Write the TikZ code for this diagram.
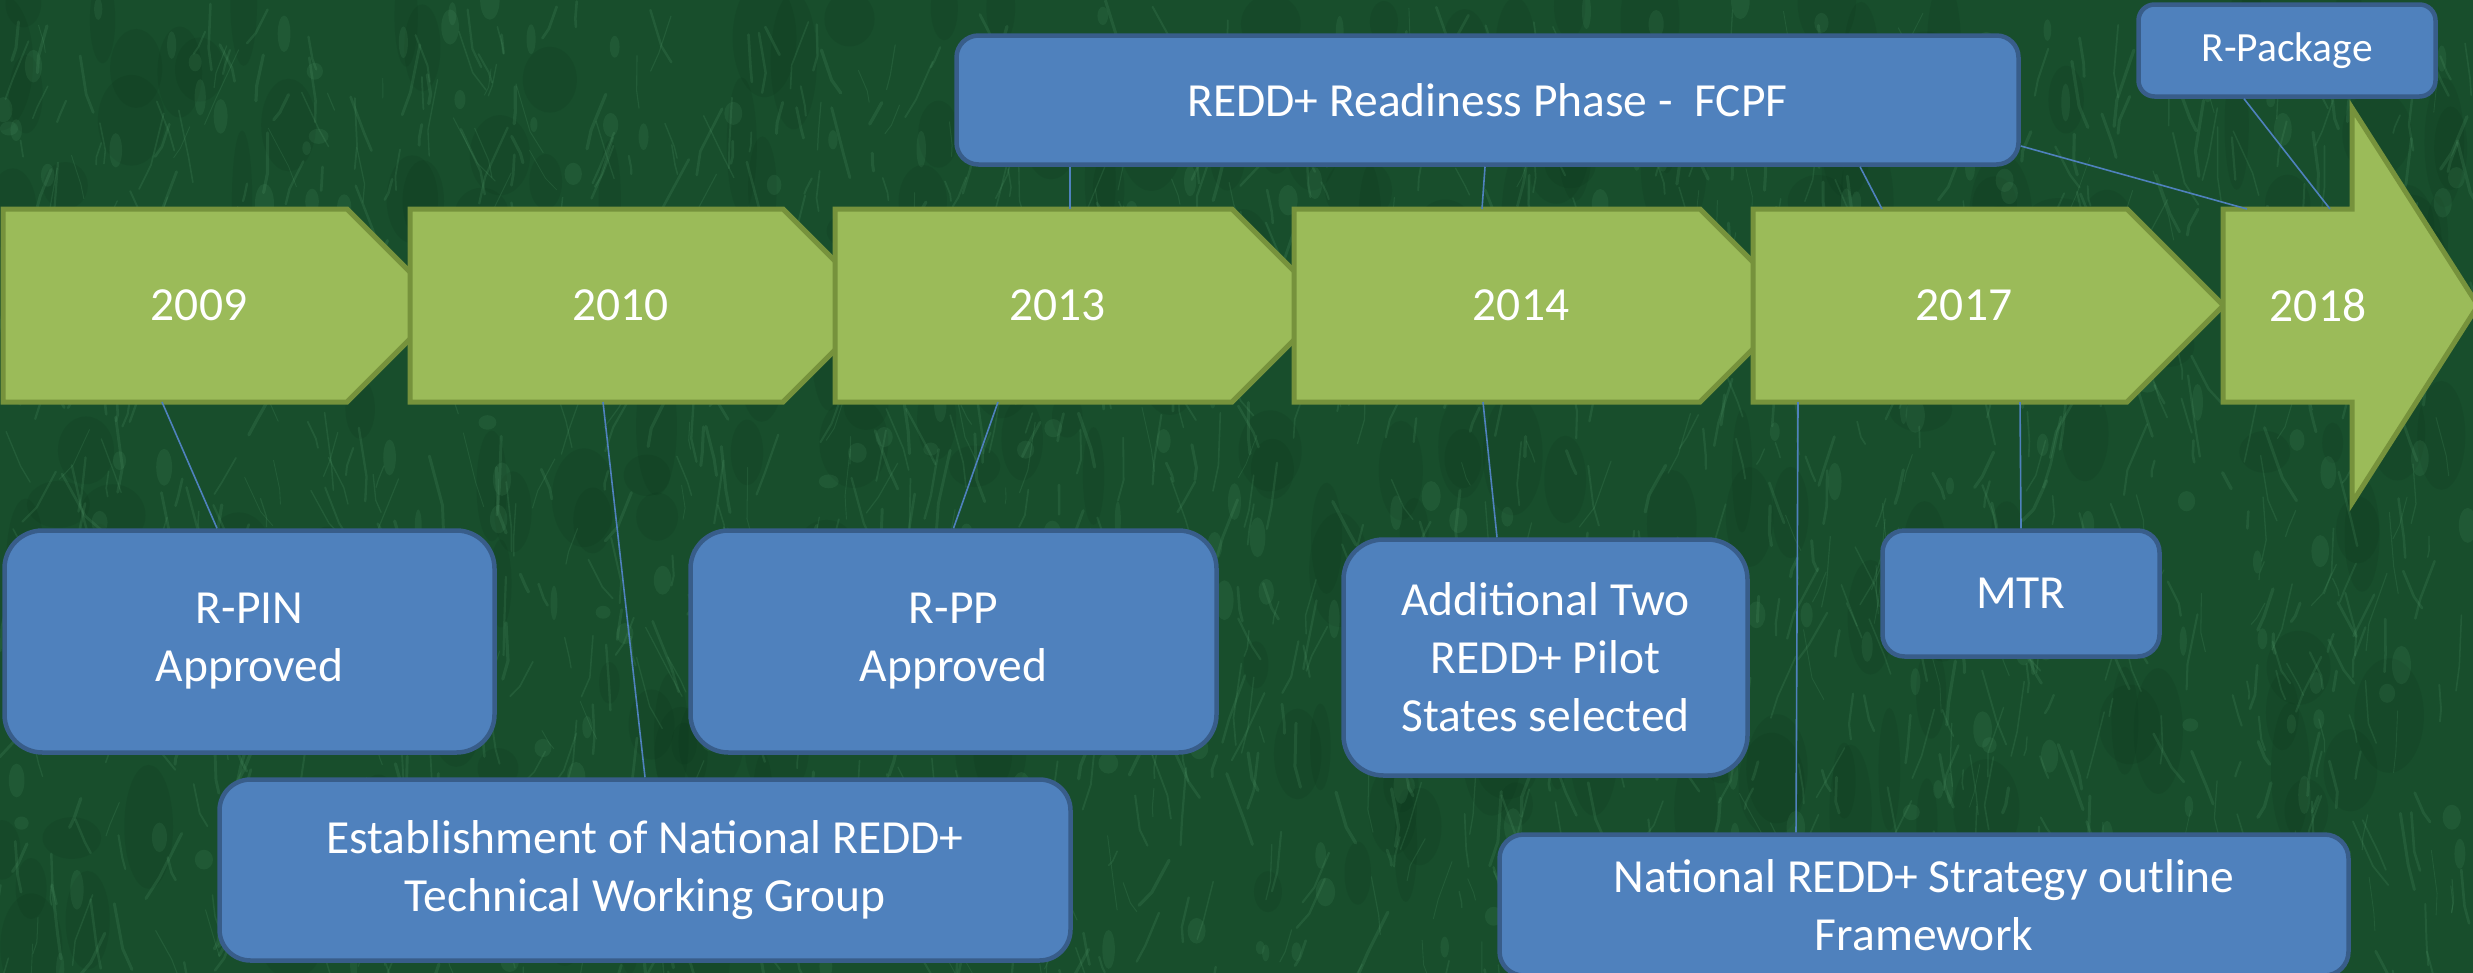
\documentclass[tikz,border=0pt]{standalone}
\usepackage{fontspec}
\setmainfont{Carlito}
\definecolor{bgdark}{RGB}{24,78,44}
\definecolor{bglight}{RGB}{95,170,120}
\definecolor{bgdeep}{RGB}{8,45,22}
\definecolor{chevfill}{RGB}{155,187,89}
\definecolor{chevline}{RGB}{118,146,60}
\definecolor{boxfill}{RGB}{79,129,189}
\definecolor{boxline}{RGB}{56,93,138}
\definecolor{connblue}{RGB}{79,129,189}
\begin{document}
\begin{tikzpicture}[x=1pt,y=-1pt,
  chev/.style={fill=chevfill,draw=chevline,line width=5pt,line join=miter},
  tbox/.style={draw=boxline,fill=boxfill,line width=4.5pt,rounded corners=#1,
    text=white,align=center,inner sep=0pt,font=\fontsize{47.5}{58}\selectfont},
  year/.style={text=white,inner sep=0pt,font=\fontsize{47.5}{58}\selectfont},
  conn/.style={draw=connblue,line width=1.6pt}]
\useasboundingbox (0,0) rectangle (2473,972);
\fill[bgdark] (-10,-10) rectangle (2483,982);
\begin{scope}
\clip (-10,-10) rectangle (2483,982);
\pgfmathsetseed{11}
\foreach \i in {1,...,260}{
  \pgfmathsetmacro\xx{rnd*2473}
  \pgfmathsetmacro\yy{rnd*972}
  \pgfmathsetmacro\ra{10+rnd*25}
  \pgfmathsetmacro\rb{20+rnd*50}
  \fill[bgdeep,opacity=0.12] (\xx,\yy) ellipse (\ra pt and \rb pt);
}
\foreach \i in {1,...,1400}{
  \pgfmathsetmacro\xx{rnd*2473}
  \pgfmathsetmacro\yy{rnd*972}
  \pgfmathsetmacro\ll{10+rnd*45}
  \pgfmathsetmacro\aa{60+rnd*60}
  \pgfmathsetmacro\ww{0.8+rnd*2.5}
  \draw[bglight,opacity=0.16,line width=\ww pt,line cap=round] (\xx,\yy) -- ++(\aa:\ll) -- ++(\aa+40*rnd-20:\ll/2);
}
\foreach \i in {1,...,300}{
  \pgfmathsetmacro\xx{rnd*2473}
  \pgfmathsetmacro\yy{rnd*972}
  \pgfmathsetmacro\ra{3+rnd*7}
  \pgfmathsetmacro\rb{6+rnd*14}
  \fill[bglight,opacity=0.12] (\xx,\yy) ellipse (\ra pt and \rb pt);
}
\end{scope}

% chevrons
\draw[chev] (3,209) -- (347,209) -- ++(96.5,96.5) -- ++(-96.5,96.5) -- (3,402) -- cycle;
\draw[chev] (410,209) -- (783,209) -- ++(96.5,96.5) -- ++(-96.5,96.5) -- (410,402) -- cycle;
\draw[chev] (835,209) -- (1232,209) -- ++(96.5,96.5) -- ++(-96.5,96.5) -- (835,402) -- cycle;
\draw[chev] (1294,209) -- (1700,209) -- ++(96.5,96.5) -- ++(-96.5,96.5) -- (1294,402) -- cycle;
\draw[chev] (1753,209) -- (2127,209) -- ++(96.5,96.5) -- ++(-96.5,96.5) -- (1753,402) -- cycle;
\draw[chev] (2223,209) -- (2352,209) -- (2352,108) -- (2478,305.5) -- (2352,503) -- (2352,402) -- (2223,402) -- cycle;

\node[year] (y2009) at (199,305.5) {2009};
\node[year] (y2010) at (620.6,305.5) {2010};
\node[year] (y2013) at (1057.6,305.5) {2013};
\node[year] (y2014) at (1521,305.5) {2014};
\node[year] (y2017) at (1964,305.5) {2017};
\node[year] (y2018) at (2318,305.5) {2018};

% connector ends on the chevrons
\coordinate (c09s) at (162,402);
\coordinate (c10s) at (603,402);
\coordinate (c13s) at (998,402);
\coordinate (c14s) at (1483,402);
\coordinate (c17s) at (2020,402);
\coordinate (c17t) at (1798,402);
\coordinate (c13n) at (1070,209);
\coordinate (c14n) at (1482,209);
\coordinate (c17n) at (1882,209);
\coordinate (c18n) at (2247,209);
\coordinate (c18m) at (2330,209);

% boxes
\node[tbox=38pt,minimum width=490pt,minimum height=222pt] (rpin) at (249.5,641.5) {R-PIN\\Approved};
\node[tbox=31pt,minimum width=851pt,minimum height=181pt] (twg) at (645,870) {Establishment of National REDD+\\Technical Working Group};
\node[tbox=38pt,minimum width=526pt,minimum height=222pt] (rpp) at (953.5,641.5) {R-PP\\Approved};
\node[tbox=40pt,minimum width=404pt,minimum height=236pt] (add) at (1545.5,657.5) {Additional Two\\REDD+ Pilot\\States selected};
\node[tbox=22pt,minimum width=277pt,minimum height=126pt] (mtr) at (2021,593.5) {MTR};
\node[tbox=24pt,minimum width=849pt,minimum height=141pt] (nat) at (1924,905) {National REDD+ Strategy outline\\Framework};
\node[tbox=22pt,minimum width=1062pt,minimum height=129pt] (redd) at (1487.5,100) {REDD+ Readiness Phase -\ \ FCPF};
\node[tbox=16pt,minimum width=297pt,minimum height=92pt,font=\fontsize{41.5}{50}\selectfont] (rpkg) at (2287,50.5) {R-Package};

% connectors
\draw[conn] ([xshift=-32.5pt]rpin.north) -- (c09s);
\draw[conn] (twg.north) -- (c10s);
\draw[conn] (rpp.north) -- (c13s);
\draw[conn] ([xshift=-48.5pt]add.north) -- (c14s);
\draw[conn] (mtr.north) -- (c17s);
\draw[conn] ([xshift=-128pt]nat.north) -- (c17t);
\draw[conn] ([xshift=-417.5pt]redd.south) -- (c13n);
\draw[conn] ([xshift=-2.5pt]redd.south) -- (c14n);
\draw[conn] ([xshift=372.5pt]redd.south) -- (c17n);
\draw[conn] ([yshift=-46pt]redd.east) -- (c18n);
\draw[conn] ([xshift=-43pt]rpkg.south) -- (c18m);
\end{tikzpicture}
\end{document}
